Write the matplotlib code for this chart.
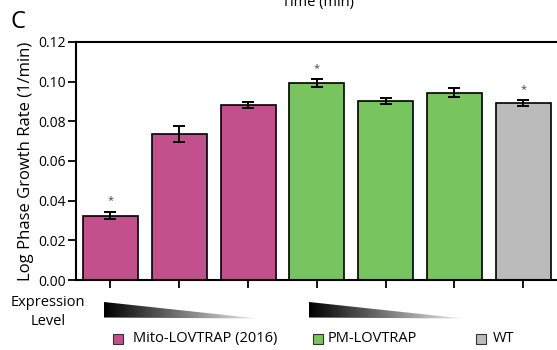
import numpy as np
import matplotlib
matplotlib.use("Agg")
import matplotlib.pyplot as plt
from matplotlib.patches import Polygon, Rectangle

plt.rcParams['font.family'] = ['Open Sans', 'DejaVu Sans']

# growth rates (1/min) and their standard errors
groups = ["Mito-LOVTRAP (2016)", "Mito-LOVTRAP (2016)", "Mito-LOVTRAP (2016)",
          "PM-LOVTRAP", "PM-LOVTRAP", "PM-LOVTRAP", "WT"]
rates = [0.0325, 0.0735, 0.0882, 0.0993, 0.0904, 0.0945, 0.0892]
errors = [0.0019, 0.0040, 0.0013, 0.0020, 0.0015, 0.0023, 0.0015]
significant = [True, False, False, True, False, False, True]

legend_names = ["Mito-LOVTRAP (2016)", "PM-LOVTRAP", "WT"]
group_colors = {"Mito-LOVTRAP (2016)": "#C2508C", "PM-LOVTRAP": "#78C45E", "WT": "#BBBBBB"}
yticks = [0.00, 0.02, 0.04, 0.06, 0.08, 0.10, 0.12]

W, H = 557, 350
fig = plt.figure(figsize=(W / 100, H / 100), dpi=100)
ax = fig.add_axes([76 / W, 70 / H, 481 / W, 238 / H])

x = np.arange(len(rates))
colors = [group_colors[g] for g in groups]
ax.bar(x, rates, width=0.8, color=colors, edgecolor="black", linewidth=1.2, zorder=2)
ax.errorbar(x, rates, yerr=errors, fmt="none", ecolor="black", elinewidth=1.4,
            capsize=4, capthick=1.4, zorder=3)
for xi, r, e, s in zip(x, rates, errors, significant):
    if s:
        ax.text(xi, r + e + 0.0055, "*", ha="center", va="center", fontsize=8, color="#444444")

ax.set_xlim(-0.5, 6.49)
ax.set_ylim(0, 0.12)
ax.set_yticks(yticks)
ax.set_yticklabels([f"{t:.2f}" for t in yticks], fontsize=10)
ax.set_xticks(x)
ax.set_xticklabels([])
ax.tick_params(axis="both", direction="out", length=6, width=1.3, pad=1.5)
for side in ["left", "top", "bottom"]:
    ax.spines[side].set_linewidth(1.5)
ax.spines["right"].set_visible(False)
ax.set_ylabel("Log Phase Growth Rate (1/min)", fontsize=12, labelpad=3)

# overlay in pixel coordinates for the annotations below the axes
ov = fig.add_axes([0, 0, 1, 1], zorder=-1)
ov.set_xlim(0, W)
ov.set_ylim(H, 0)
ov.axis("off")

grad = np.linspace(0, 0.93, 256).reshape(1, -1)
for x0, x1 in [(104, 258), (309, 463)]:
    tri = Polygon([(x0, 302), (x0, 317.5), (x1, 318.5)], closed=True,
                  facecolor="none", edgecolor="none")
    ov.add_patch(tri)
    im = ov.imshow(grad, cmap="gray", vmin=0, vmax=1, aspect="auto",
                   extent=(x0, x1, 319, 301), interpolation="bilinear")
    im.set_clip_path(tri)

ov.text(48, 312, "Expression\nLevel", ha="center", va="center", fontsize=10.5,
        linespacing=1.3)

for name, (sx, tx) in zip(legend_names, [(113, 133), (313, 328), (476, 493)]):
    ov.add_patch(Rectangle((sx, 334), 10, 9.5, facecolor=group_colors[name],
                           edgecolor="#333333", linewidth=0.8))
    ov.text(tx, 338.5, name, ha="left", va="center", fontsize=10.5)

ov.text(10, 21.5, "C", ha="left", va="center", fontsize=17)
ov.text(318, 6, "Time (min)", ha="center", va="baseline", fontsize=10.5)

fig.savefig("out.png", dpi=100)
